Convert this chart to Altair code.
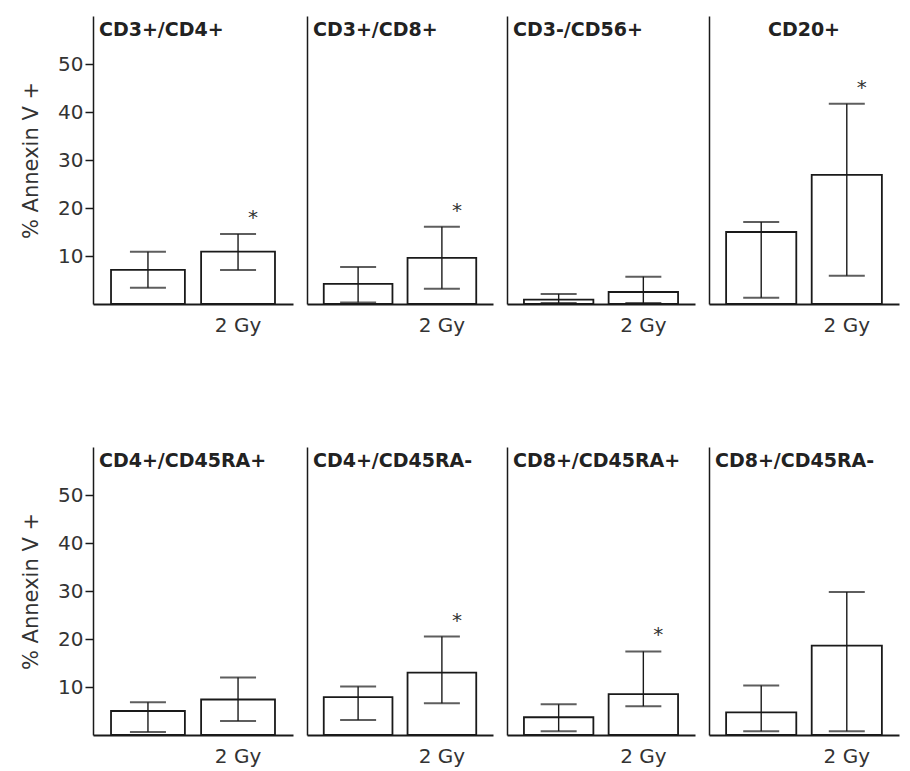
import altair as alt
import pandas as pd

# Lymphocyte subsets, top row then bottom row
subsets = [
    "CD3+/CD4+", "CD3+/CD8+", "CD3-/CD56+", "CD20+",
    "CD4+/CD45RA+", "CD4+/CD45RA-", "CD8+/CD45RA+", "CD8+/CD45RA-",
]
groups = ["Control", "2 Gy"]

# % Annexin V+ cells: mean with lower / upper error bar ends
ctrl_mean = [7.1, 4.2, 0.9, 15.0, 5.0, 7.9, 3.7, 4.7]
ctrl_low = [3.4, 0.3, 0.2, 1.3, 0.6, 3.1, 0.8, 0.8]
ctrl_high = [10.9, 7.7, 2.1, 17.1, 6.8, 10.1, 6.4, 10.3]
gy_mean = [10.9, 9.6, 2.5, 26.9, 7.4, 13.0, 8.5, 18.6]
gy_low = [7.1, 3.2, 0.2, 5.9, 2.9, 6.6, 6.0, 0.8]
gy_high = [14.6, 16.1, 5.7, 41.7, 12.0, 20.5, 17.4, 29.8]
# significant difference after irradiation
gy_sig = [True, True, False, True, False, True, True, False]

y_ticks = [10, 20, 30, 40, 50]
y_title = "% Annexin V +"

FONT = "DejaVu Sans"
INK = "#1a1a1a"
TEXT = "#333333"
widths = [200, 186, 188, 190]
HEIGHT = 288

y_scale = alt.Scale(domain=[0, 60], nice=False, zero=True)


def panel(i, col):
    name = subsets[i]
    df = pd.DataFrame({
        "group": groups,
        "mean": [ctrl_mean[i], gy_mean[i]],
        "low": [ctrl_low[i], gy_low[i]],
        "high": [ctrl_high[i], gy_high[i]],
        "star": ["", "*" if gy_sig[i] else ""],
    })
    width = widths[col]

    x = alt.X(
        "group:N", sort=groups,
        scale=alt.Scale(paddingInner=0.18, paddingOuter=0.2),
        axis=alt.Axis(
            title=None, ticks=False, labelAngle=0,
            labelExpr="datum.value == '2 Gy' ? datum.value : ''",
            labelFont=FONT, labelFontSize=20, labelColor=TEXT, labelPadding=11,
            domainColor=INK, domainWidth=2,
        ),
    )
    if col == 0:
        y_axis = alt.Axis(
            title=y_title, values=y_ticks, grid=False,
            tickSize=8, tickWidth=1.5, tickColor=INK,
            labelFont=FONT, labelFontSize=20, labelColor=TEXT, labelPadding=2,
            titleFont=FONT, titleFontSize=21, titleFontWeight="normal",
            titleColor=TEXT, titlePadding=16,
            domainColor=INK, domainWidth=1.5,
        )
        title = y_title
    else:
        y_axis = alt.Axis(
            title=None, labels=False, ticks=False, grid=False,
            domainColor=INK, domainWidth=1.5,
        )
        title = None

    base = alt.Chart(df).encode(x=x)
    bars = base.mark_bar(fill="white", stroke=INK, strokeWidth=1.8).encode(
        y=alt.Y("mean:Q", scale=y_scale, axis=y_axis)
    )
    stems = base.mark_rule(color=INK, strokeWidth=1.4).encode(
        y=alt.Y("low:Q", title=title), y2="high:Q"
    )
    cap_low = base.mark_tick(color=INK, size=36, thickness=2).encode(
        y=alt.Y("low:Q", title=title)
    )
    cap_high = base.mark_tick(color=INK, size=36, thickness=2).encode(
        y=alt.Y("high:Q", title=title)
    )
    stars = base.mark_text(
        font=FONT, fontSize=20, color=TEXT, dx=15, dy=-6, baseline="bottom"
    ).encode(y=alt.Y("high:Q", title=title), text="star:N")

    centered = name == "CD20+"
    label = alt.Chart(pd.DataFrame({"panel": [name]})).mark_text(
        font=FONT, fontSize=19, fontWeight="bold", color="#222222",
        align="center" if centered else "left", baseline="top",
    ).encode(
        x=alt.value(width / 2 if centered else 6),
        y=alt.value(5),
        text="panel:N",
    )

    return alt.layer(bars, stems, cap_low, cap_high, stars, label).properties(
        width=width, height=HEIGHT
    )


top_row = alt.hconcat(*[panel(i, i) for i in range(4)], spacing=14)
bottom_row = alt.hconcat(*[panel(4 + i, i) for i in range(4)], spacing=14)

chart = alt.vconcat(top_row, bottom_row, spacing=112).properties(
    padding={"left": 20, "top": 16, "right": 5, "bottom": 5},
    background="white",
).configure_view(stroke=None)

chart.save("out.html", embed_options={"renderer": "svg", "actions": False})
